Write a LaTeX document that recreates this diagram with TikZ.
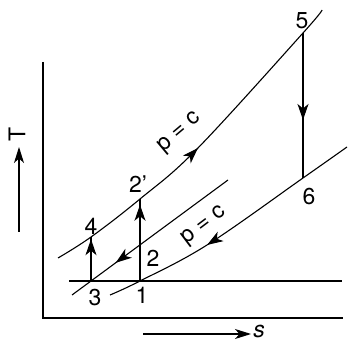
\documentclass[tikz,border=0pt]{standalone}
\usepackage{fontspec}
\setmainfont{TeX Gyre Heros}
\usetikzlibrary{arrows.meta, decorations.markings}

\begin{document}
\begin{tikzpicture}[x=1pt, y=-1pt,
  curve/.style={line width=1.1pt},
  flowarr/.style={postaction={decorate}, decoration={markings,
    mark=at position #1 with {\arrow{Stealth[length=16pt, width=11pt, inset=4.5pt]}}}},
  axarr/.style={line width=1.1pt, -{Stealth[length=16pt, width=10pt, inset=4.5pt]}},
  lbl/.style={font=\fontsize{23}{26}\selectfont, inner sep=1pt}
]
\useasboundingbox (0,0) rectangle (348,347);

% state points
\coordinate (p3)  at (91,281);
\coordinate (p1)  at (140,281);
\coordinate (p4)  at (91,237);
\coordinate (p2)  at (140,245);
\coordinate (p2s) at (140,199);
\coordinate (p5)  at (303,33);
\coordinate (p6)  at (303,178);

% axes
\coordinate (o)  at (43,318);
\coordinate (ty) at (43,62);
\coordinate (sx) at (343,318);
\draw[curve] (ty) -- (o) -- (sx);

\coordinate (ta) at (19,232);
\coordinate (tb) at (19,147);
\draw[axarr] (ta) -- (tb);
\node[lbl, rotate=90] (tlab) at (17,134) {T};

\coordinate (sa) at (143,334);
\coordinate (sb) at (251,334);
\draw[axarr] (sa) -- (sb);
\node[lbl, font=\fontsize{23}{26}\selectfont\itshape] (slab) at (259,331) {s};

% horizontal line through 3 and 1
\coordinate (ha) at (69,281);
\coordinate (hb) at (342,281);
\draw[curve] (ha) -- (hb);

% upper constant pressure line
\draw[curve, flowarr=0.49] plot[smooth, tension=0.6] coordinates
  {(58,258) (p4) (p2s) (197,149) (p5) (322,10)};

% lower constant pressure line
\draw[curve, flowarr=0.61] plot[smooth, tension=0.6] coordinates
  {(347,147) (p6) (207,245) (p1) (110,295)};

% middle line
\coordinate (ma) at (228,180);
\coordinate (mb) at (72,295);
\draw[curve, flowarr=0.72] (ma) -- (mb);

% verticals
\draw[curve, flowarr=0.95] (p3) -- (p4);
\draw[curve, flowarr=0.93] (p1) -- (p2s);
\draw[curve, flowarr=0.6] (p5) -- (p6);

% labels
\node[lbl] (l5)  at (302,21)  {5};
\node[lbl] (l6)  at (309,197) {6};
\node[lbl] (l4)  at (91,226)  {4};
\node[lbl] (l2s) at (138,184) {2’};
\node[lbl] (l2)  at (153,258) {2};
\node[lbl] (l3)  at (95,298)  {3};
\node[lbl] (l1)  at (142,295) {1};
\node[lbl, rotate=40] (pc1) at (180,133) {p = c};
\node[lbl, rotate=37] (pc2) at (204,226) {p = c};
\end{tikzpicture}
\end{document}
